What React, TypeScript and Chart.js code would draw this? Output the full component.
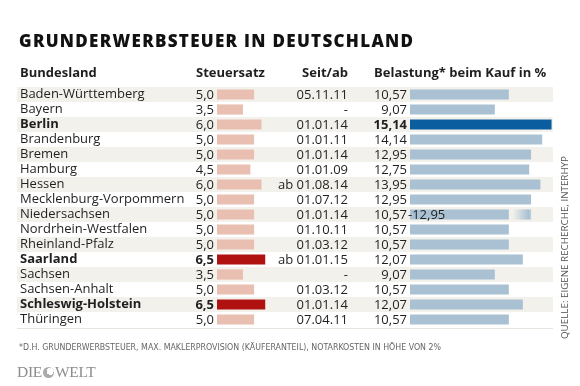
import React, { useEffect, useRef } from "react";
import { Chart, registerables } from "chart.js";

Chart.register(...registerables);

// ---------- data ----------
const states = [
  "Baden-Württemberg", "Bayern", "Berlin", "Brandenburg", "Bremen", "Hamburg", "Hessen",
  "Mecklenburg-Vorpommern", "Niedersachsen", "Nordrhein-Westfalen", "Rheinland-Pfalz",
  "Saarland", "Sachsen", "Sachsen-Anhalt", "Schleswig-Holstein", "Thüringen",
];
const taxRates = [5.0, 3.5, 6.0, 5.0, 5.0, 4.5, 6.0, 5.0, 5.0, 5.0, 5.0, 6.5, 3.5, 5.0, 6.5, 5.0];
const sinceDates = [
  "05.11.11", "-", "01.01.14", "01.01.11", "01.01.14", "01.01.09", "ab 01.08.14", "01.07.12",
  "01.01.14", "01.10.11", "01.03.12", "ab 01.01.15", "-", "01.03.12", "01.01.14", "07.04.11",
];
const burden = [10.57, 9.07, 15.14, 14.14, 12.95, 12.75, 13.95, 12.95, 10.57, 10.57, 10.57, 12.07, 9.07, 10.57, 12.07, 10.57];
// upper end of a burden range (only Niedersachsen)
const burdenUpper: (number | null)[] = [null, null, null, null, null, null, null, null, 12.95, null, null, null, null, null, null, null];
const boldStates = ["Berlin", "Saarland", "Schleswig-Holstein"];
const taxHighlight = ["Saarland", "Schleswig-Holstein"];
const burdenHighlight = ["Berlin"];

const title = "GRUNDERWERBSTEUER IN DEUTSCHLAND";
const headers = { state: "Bundesland", tax: "Steuersatz", since: "Seit/ab", burden: "Belastung* beim Kauf in %" };
const footnote = "*D.H. GRUNDERWERBSTEUER, MAX. MAKLERPROVISION (KÄUFERANTEIL), NOTARKOSTEN IN HÖHE VON 2%";
const source = "QUELLE: EIGENE RECHERCHE, INTERHYP";

// ---------- layout / style ----------
const W = 580, H = 386;
const AREA_L = 195, AREA_R = 553, AREA_T = 87, AREA_B = 327;
const TAX_ZERO = 217, TAX_PPU = 7.42;
const BUR_ZERO = 410, BUR_PPU = 9.35;
const FONT = "'Open Sans', 'Noto Sans', sans-serif";
const TEXT = "#1f1f1f";
const ROW_BG = "#f3f1ec";
const TAX_LIGHT = "#e9bfb1";
const TAX_DARK = "#b01111";
const BUR_LIGHT = "#a9c1d2";
const BUR_DARK = "#0a5d9f";
const fmt = (v: number, d: number) => v.toFixed(d).replace(".", ",");

export default function App() {
  const ref = useRef<HTMLCanvasElement | null>(null);

  useEffect(() => {
    if (!ref.current) return;
    const tableText = {
      id: "tableText",
      beforeDraw(chart: any) {
        const { ctx } = chart;
        const y = chart.scales.y;
        const pitch = y.getPixelForValue(1) - y.getPixelForValue(0);
        ctx.save();
        ctx.fillStyle = ROW_BG;
        states.forEach((_, i) => {
          if (i % 2 === 0) {
            const c = y.getPixelForValue(i);
            ctx.fillRect(17, c - pitch / 2, AREA_R - 17, pitch);
          }
        });
        ctx.fillStyle = "#e6e4df";
        const last = y.getPixelForValue(states.length - 1) + pitch / 2;
        ctx.fillRect(17, last + 1, AREA_R - 17, 1);
        ctx.restore();
      },
      afterDatasetsDraw(chart: any) {
        const { ctx } = chart;
        const y = chart.scales.y;
        const xs = chart.scales.xs;
        const xb = chart.scales.xb;
        ctx.save();
        ctx.textBaseline = "middle";
        ctx.fillStyle = TEXT;
        states.forEach((s, i) => {
          const cy = y.getPixelForValue(i) + 0.5;
          ctx.textAlign = "right";
          ctx.font = `${taxHighlight.includes(s) ? "bold " : ""}13px ${FONT}`;
          ctx.fillText(fmt(taxRates[i], 1), xs.getPixelForValue(0) - 3, cy);
          ctx.font = `13px ${FONT}`;
          ctx.fillText(sinceDates[i], 348, cy);
          ctx.font = `${burdenHighlight.includes(s) ? "bold " : ""}13px ${FONT}`;
          ctx.fillText(fmt(burden[i], 2), xb.getPixelForValue(0) - 3, cy);
          const up = burdenUpper[i];
          if (up != null) {
            ctx.textAlign = "left";
            ctx.font = `13px ${FONT}`;
            ctx.fillText("-" + fmt(up, 2), xb.getPixelForValue(0) - 2, cy);
          }
        });
        ctx.restore();
      },
    };

    const chart = new Chart(ref.current, {
      type: "bar",
      data: {
        labels: states,
        datasets: [
          {
            label: headers.tax,
            data: taxRates,
            xAxisID: "xs",
            grouped: false,
            backgroundColor: states.map((s) => (taxHighlight.includes(s) ? TAX_DARK : TAX_LIGHT)),
            barPercentage: 0.68,
            categoryPercentage: 1,
          },
          {
            label: headers.burden,
            data: burden,
            xAxisID: "xb",
            grouped: false,
            backgroundColor: states.map((s) => (burdenHighlight.includes(s) ? BUR_DARK : BUR_LIGHT)),
            barPercentage: 0.68,
            categoryPercentage: 1,
          },
          {
            label: "range",
            data: burdenUpper.map((u, i) => (u == null ? null : [burden[i], u])) as any,
            xAxisID: "xb",
            grouped: false,
            barPercentage: 0.68,
            categoryPercentage: 1,
            backgroundColor: (c: any) => {
              const ch = c.chart;
              const xb = ch.scales.xb;
              const i = c.dataIndex;
              const u = burdenUpper[i];
              if (!xb || u == null) return BUR_LIGHT;
              const x0 = xb.getPixelForValue(burden[i]);
              const x1 = xb.getPixelForValue(u);
              const g = ch.ctx.createLinearGradient(x0, 0, x1, 0);
              g.addColorStop(0, "rgba(169,193,210,0)");
              g.addColorStop(0.2, "rgba(169,193,210,0.05)");
              g.addColorStop(0.88, "rgba(169,193,210,1)");
              g.addColorStop(1, "rgba(169,193,210,0.7)");
              return g;
            },
          },
        ],
      },
      options: {
        indexAxis: "y",
        animation: false,
        responsive: false,
        layout: { padding: { left: 20, right: W - AREA_R, top: AREA_T, bottom: H - AREA_B } },
        plugins: { legend: { display: false }, tooltip: { enabled: false } },
        scales: {
          y: {
            type: "category",
            position: "left",
            grid: { display: false },
            border: { display: false },
            afterFit: (scale: any) => { scale.width = AREA_L - 20; },
            ticks: {
              crossAlign: "far",
              padding: 0,
              color: TEXT,
              autoSkip: false,
              font: (c: any) => ({
                family: FONT,
                size: 13,
                weight: boldStates.includes(states[c.index]) ? "bold" : "normal",
              }),
            },
          },
          xs: {
            type: "linear",
            display: false,
            min: (AREA_L - TAX_ZERO) / TAX_PPU,
            max: (AREA_R - TAX_ZERO) / TAX_PPU,
          },
          xb: {
            type: "linear",
            display: false,
            min: (AREA_L - BUR_ZERO) / BUR_PPU,
            max: (AREA_R - BUR_ZERO) / BUR_PPU,
          },
        },
      },
      plugins: [tableText],
    } as any);
    return () => chart.destroy();
  }, []);

  const hdr: React.CSSProperties = {
    position: "absolute", top: 64, fontFamily: FONT, fontWeight: 700, fontSize: 13,
    color: TEXT, whiteSpace: "nowrap", lineHeight: "16px",
  };

  return (
    <div style={{ position: "fixed", left: 0, top: 0, width: W, height: H, background: "#fff", overflow: "hidden" }}>
      <canvas ref={ref} width={W} height={H} style={{ position: "absolute", left: 0, top: 0 }} />
      <div style={{ position: "absolute", left: 19, top: 30, fontFamily: FONT, fontWeight: 800, fontSize: 17, letterSpacing: "1.3px", color: "#111", whiteSpace: "nowrap", lineHeight: "22px" }}>
        {title}
      </div>
      <div style={{ ...hdr, left: 20 }}>{headers.state}</div>
      <div style={{ ...hdr, left: 196 }}>{headers.tax}</div>
      <div style={{ ...hdr, right: W - 348 }}>{headers.since}</div>
      <div style={{ ...hdr, left: 374 }}>{headers.burden}</div>
      <div style={{ position: "absolute", left: 19, top: 341, fontFamily: "'DejaVu Sans Condensed', sans-serif", fontSize: 8.75, color: "#666", whiteSpace: "nowrap", lineHeight: "12px" }}>
        {footnote}
      </div>
      <div style={{ position: "absolute", left: 17, top: 363, fontFamily: "'Liberation Serif', serif", fontSize: 15.5, color: "#8c8c8c", whiteSpace: "nowrap", lineHeight: "18px", letterSpacing: "-0.3px" }}>
        DIE
        <span style={{ display: "inline-block", width: 11, height: 11, borderRadius: "50%", margin: "0 1px", verticalAlign: "-1px", background: "radial-gradient(circle at 65% 40%, #fff 0 35%, #aaa 36% 100%)" }} />
        WELT
      </div>
      <div style={{ position: "absolute", left: 0, top: 0, transform: "translate(559px, 339px) rotate(-90deg)", transformOrigin: "0 0", fontFamily: FONT, fontSize: 9.8, color: "#555", whiteSpace: "nowrap", lineHeight: "12px" }}>
        {source}
      </div>
    </div>
  );
}
